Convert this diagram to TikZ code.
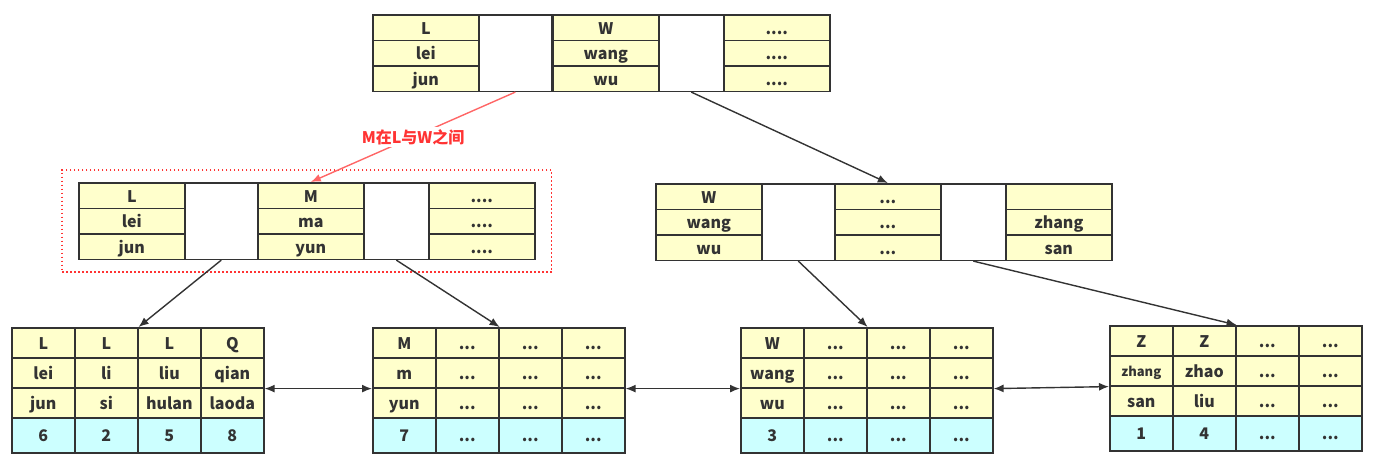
\documentclass[tikz,border=0pt]{standalone}
\usepackage{fontspec}
\setmainfont{Noto Sans CJK SC}
\usetikzlibrary{arrows.meta,fit}
\definecolor{keyc}{HTML}{FFFFCC}
\definecolor{valc}{HTML}{CCFFFF}
\definecolor{linec}{HTML}{333333}
\definecolor{hl}{HTML}{FF3333}
\definecolor{hlarrow}{HTML}{FF6666}
\tikzset{
  keycell/.style = {rectangle, draw=linec, line width=1.6pt, fill=keyc, anchor=north west, minimum width=106pt, minimum height=25.5pt, inner sep=0, text height=13pt, text depth=0pt, text=linec, font=\bfseries\fontsize{16}{19}\selectfont},
  ptrcell/.style = {rectangle, draw=linec, line width=1.6pt, fill=white, anchor=north west, minimum width=#1, minimum height=76.5pt, inner sep=0},
  leafkey/.style = {keycell, minimum width=63pt, minimum height=30pt},
  leafval/.style = {leafkey, fill=valc, minimum height=35pt},
  small/.style   = {font=\bfseries\fontsize{13}{15}\selectfont, text height=12pt},
  link/.style    = {draw=linec, line width=1.4pt, -{Latex[length=10pt,width=8pt]}},
  sib/.style     = {draw=linec, line width=1.4pt, {Latex[length=10pt,width=8pt]}-{Latex[length=10pt,width=8pt]}},
  hint/.style    = {draw=hlarrow, line width=1.4pt, -{Latex[length=10pt,width=8pt]}},
  hintlbl/.style = {fill=white, text=hl, inner sep=2pt, font=\bfseries\fontsize{16}{19}\selectfont},
  hilite/.style  = {draw=hl, line width=1.4pt, dash pattern=on 1.6pt off 2.4pt, inner xsep=16pt, inner ysep=12pt}
}
\begin{document}
\begin{tikzpicture}[x=1pt,y=-1pt]
  \useasboundingbox (0,0) rectangle (1376,464);

  \node[keycell] (t11) at (372,14)   {L};   \node[keycell] (t12) at (552,14)   {W};    \node[keycell] (t13) at (723,14)   {....};
  \node[keycell] (t21) at (372,39.5) {lei}; \node[keycell] (t22) at (552,39.5) {wang}; \node[keycell] (t23) at (723,39.5) {....};
  \node[keycell] (t31) at (372,65)   {jun}; \node[keycell] (t32) at (552,65)   {wu};   \node[keycell] (t33) at (723,65)   {....};
  \node[ptrcell=73pt] (tp1) at (478,14) {}; \node[ptrcell=65pt] (tp2) at (658,14) {};

  \node[keycell] (m11) at (78,182)   {L};   \node[keycell] (m12) at (257,182)   {M};   \node[keycell] (m13) at (428,182)   {....};
  \node[keycell] (m21) at (78,207.5) {lei}; \node[keycell] (m22) at (257,207.5) {ma};  \node[keycell] (m23) at (428,207.5) {....};
  \node[keycell] (m31) at (78,233)   {jun}; \node[keycell] (m32) at (257,233)   {yun}; \node[keycell] (m33) at (428,233)   {....};
  \node[ptrcell=73pt] (mp1) at (184,182) {}; \node[ptrcell=65pt] (mp2) at (363,182) {};
  \node[hilite, fit=(m11)(m33)] (mbox) {};

  \node[keycell] (r11) at (655,183)   {W};    \node[keycell] (r12) at (834,183)   {...}; \node[keycell] (r13) at (1005,183)   {};
  \node[keycell] (r21) at (655,208.5) {wang}; \node[keycell] (r22) at (834,208.5) {...}; \node[keycell] (r23) at (1005,208.5) {zhang};
  \node[keycell] (r31) at (655,234)   {wu};   \node[keycell] (r32) at (834,234)   {...}; \node[keycell] (r33) at (1005,234)   {san};
  \node[ptrcell=73pt] (rp1) at (761,183) {}; \node[ptrcell=65pt] (rp2) at (940,183) {};

  \node[leafkey] (a11) at (11,327) {L};   \node[leafkey] (a12) at (74,327) {L};  \node[leafkey] (a13) at (137,327) {L};     \node[leafkey] (a14) at (200,327) {Q};
  \node[leafkey] (a21) at (11,357) {lei}; \node[leafkey] (a22) at (74,357) {li}; \node[leafkey] (a23) at (137,357) {liu};   \node[leafkey] (a24) at (200,357) {qian};
  \node[leafkey] (a31) at (11,387) {jun}; \node[leafkey] (a32) at (74,387) {si}; \node[leafkey] (a33) at (137,387) {hulan}; \node[leafkey] (a34) at (200,387) {laoda};
  \node[leafval] (a41) at (11,417) {6};   \node[leafval] (a42) at (74,417) {2};  \node[leafval] (a43) at (137,417) {5};     \node[leafval] (a44) at (200,417) {8};

  \node[leafkey] (b11) at (372,327) {M};   \node[leafkey] (b12) at (435,327) {...}; \node[leafkey] (b13) at (498,327) {...}; \node[leafkey] (b14) at (561,327) {...};
  \node[leafkey] (b21) at (372,357) {m};   \node[leafkey] (b22) at (435,357) {...}; \node[leafkey] (b23) at (498,357) {...}; \node[leafkey] (b24) at (561,357) {...};
  \node[leafkey] (b31) at (372,387) {yun}; \node[leafkey] (b32) at (435,387) {...}; \node[leafkey] (b33) at (498,387) {...}; \node[leafkey] (b34) at (561,387) {...};
  \node[leafval] (b41) at (372,417) {7};   \node[leafval] (b42) at (435,417) {...}; \node[leafval] (b43) at (498,417) {...}; \node[leafval] (b44) at (561,417) {...};

  \node[leafkey] (c11) at (740,327) {W};    \node[leafkey] (c12) at (803,327) {...}; \node[leafkey] (c13) at (866,327) {...}; \node[leafkey] (c14) at (929,327) {...};
  \node[leafkey] (c21) at (740,357) {wang}; \node[leafkey] (c22) at (803,357) {...}; \node[leafkey] (c23) at (866,357) {...}; \node[leafkey] (c24) at (929,357) {...};
  \node[leafkey] (c31) at (740,387) {wu};   \node[leafkey] (c32) at (803,387) {...}; \node[leafkey] (c33) at (866,387) {...}; \node[leafkey] (c34) at (929,387) {...};
  \node[leafval] (c41) at (740,417) {3};    \node[leafval] (c42) at (803,417) {...}; \node[leafval] (c43) at (866,417) {...}; \node[leafval] (c44) at (929,417) {...};

  \node[leafkey] (d11) at (1109,325) {Z};              \node[leafkey] (d12) at (1172,325) {Z};    \node[leafkey] (d13) at (1235,325) {...}; \node[leafkey] (d14) at (1298,325) {...};
  \node[leafkey, small] (d21) at (1109,355) {zhang};   \node[leafkey] (d22) at (1172,355) {zhao}; \node[leafkey] (d23) at (1235,355) {...}; \node[leafkey] (d24) at (1298,355) {...};
  \node[leafkey] (d31) at (1109,385) {san};            \node[leafkey] (d32) at (1172,385) {liu};  \node[leafkey] (d33) at (1235,385) {...}; \node[leafkey] (d34) at (1298,385) {...};
  \node[leafval] (d41) at (1109,415) {1};              \node[leafval] (d42) at (1172,415) {4};    \node[leafval] (d43) at (1235,415) {...}; \node[leafval] (d44) at (1298,415) {...};

  \draw[hint] (tp1.south) -- node[hintlbl] (why) {M在L与W之间} (m12.north);
  \draw[link] (tp2.south) -- (r12.north);
  \draw[link] (mp1.south) -- (a12.north east);
  \draw[link] (mp2.south) -- (b12.north east);
  \draw[link] (rp1.south) -- (c12.north east);
  \draw[link] (rp2.south) -- (d12.north east);

  \draw[sib] (a24.south east) -- (b21.south west);
  \draw[sib] (b24.south east) -- (c21.south west);
  \draw[sib] (c24.south east) -- (d21.south west);
\end{tikzpicture}
\end{document}
